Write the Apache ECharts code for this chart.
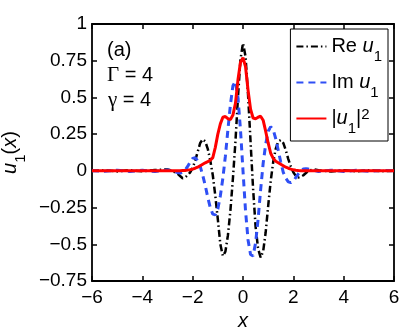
<!DOCTYPE html>
<html>
<head>
<meta charset="utf-8">
<script src="https://cdn.jsdelivr.net/npm/echarts@6.0.0/dist/echarts.min.js"></script>
<style>
  html, body { margin: 0; padding: 0; background: #fff; }
  #chart { width: 407px; height: 330px; }
</style>
</head>
<body>
<div id="chart"></div>
<script>
// x positions of the samples
const xs = [-6, -5.5, -5, -4.5, -4, -3.5, -3, -2.8, -2.6,
  -2.5, -2.4, -2.3, -2.2, -2.1, -2.0, -1.9, -1.8, -1.7, -1.6, -1.5, -1.4, -1.3, -1.2, -1.1,
  -1.0, -0.9, -0.8, -0.7, -0.6, -0.5, -0.4, -0.3, -0.2, -0.1, 0,
  0.1, 0.2, 0.3, 0.4, 0.5, 0.6, 0.7, 0.8, 0.9, 1.0, 1.1, 1.2, 1.3, 1.4, 1.5,
  1.6, 1.7, 1.8, 1.9, 2.0, 2.1, 2.2, 2.3, 2.4, 2.5,
  2.6, 2.8, 3, 3.5, 4, 4.5, 5, 5.5, 6]

// Re u1
const reU = [0, 0.004, -0.004, 0.005, -0.003, 0.006, 0.01, 0.0, -0.02,
  -0.035, -0.05, -0.045, -0.03, -0.01, 0.02, 0.07, 0.13, 0.19, 0.215, 0.2, 0.15, 0.07, -0.03, -0.17,
  -0.33, -0.5, -0.58, -0.55, -0.44, -0.27, -0.05, 0.2, 0.5, 0.76, 0.87,
  0.78, 0.52, 0.2, -0.12, -0.38, -0.53, -0.59, -0.55, -0.42, -0.24, -0.07, 0.06, 0.15, 0.2, 0.21,
  0.19, 0.14, 0.08, 0.03, -0.01, -0.035, -0.045, -0.04, -0.03, -0.015,
  0.0, 0.01, 0.005, -0.004, 0.005, -0.003, 0.004, -0.002, 0]

// Im u1
const imU = [0, -0.003, 0.004, -0.004, 0.005, -0.005, 0.006, 0.0, -0.012,
  -0.015, -0.01, 0.005, 0.03, 0.06, 0.085, 0.09, 0.07, 0.03, -0.03, -0.1, -0.18, -0.25, -0.295, -0.3,
  -0.26, -0.17, -0.05, 0.1, 0.28, 0.45, 0.58, 0.61, 0.5, 0.28, 0.0,
  -0.27, -0.47, -0.57, -0.58, -0.49, -0.33, -0.13, 0.05, 0.18, 0.27, 0.3, 0.28, 0.22, 0.14, 0.06,
  -0.01, -0.05, -0.075, -0.08, -0.07, -0.045, -0.02, 0.0, 0.012, 0.015,
  0.012, 0.004, -0.004, 0.005, -0.004, 0.004, -0.003, 0.003, 0]

// |u1|^2
const absU2 = [0, 0, 0, 0, 0, 0, 0, 0, 0.001,
  0.001, 0.002, 0.003, 0.005, 0.008, 0.012, 0.018, 0.025, 0.035, 0.045, 0.055, 0.063, 0.072, 0.09, 0.16,
  0.25, 0.32, 0.365, 0.37, 0.355, 0.35, 0.38, 0.46, 0.62, 0.74, 0.77,
  0.71, 0.55, 0.42, 0.36, 0.355, 0.365, 0.372, 0.345, 0.27, 0.19, 0.12, 0.085, 0.065, 0.055, 0.045,
  0.035, 0.025, 0.018, 0.012, 0.007, 0.004, 0.002, 0.001, 0, 0,
  0, 0, 0, 0, 0, 0, 0, 0, 0]

const yTicks = [-0.75, -0.5, -0.25, 0, 0.25, 0.5, 0.75, 1]
const yTickLabels = ['\u22120.75', '\u22120.5', '\u22120.25', '0', '0.25', '0.5', '0.75', '1']
const xTicks = [-6, -4, -2, 0, 2, 4, 6]
const xTickLabels = ['\u22126', '\u22124', '\u22122', '0', '2', '4', '6']

const font = "'Liberation Sans', Arial, sans-serif"
const serif = "'Liberation Serif', 'DejaVu Serif', serif"

// rich styles for italic u, subscripts, superscript
const rich = {
  n: { fontSize: 20, lineHeight: 22, fontFamily: font, color: '#000' },
  i: { fontSize: 20, lineHeight: 22, fontFamily: font, fontStyle: 'italic', color: '#000' },
  s: { fontSize: 15, lineHeight: 16, fontFamily: font, color: '#000', padding: [20, 0, 0, 0] },
  p: { fontSize: 15, lineHeight: 16, fontFamily: font, color: '#000', padding: [0, 0, 8, 0] }
}
const greek = {
  n: { fontSize: 20, fontFamily: font, fill: '#000' },
  g: { fontSize: 21, fontFamily: serif, fill: '#000' }
}

const names = ['Re u1', 'Im u1', '|u1|^2']
const legendText = {
  'Re u1': '{n|Re }{i|u}{s|1}',
  'Im u1': '{n|Im }{i|u}{s|1}',
  '|u1|^2': '{n||}{i|u}{s|1}{n||}{p|2}'
}

const chart = echarts.init(document.getElementById('chart'))

const pairs = arr => xs.map((x, k) => [x, arr[k]])

const axisLine = { onZero: false, lineStyle: { color: '#000', width: 1.8 } }
const axisTick = { inside: true, length: 5, lineStyle: { color: '#000', width: 1.5 } }

chart.setOption({
  animation: false,
  backgroundColor: '#fff',
  grid: { left: 92, right: 13, top: 24, bottom: 49, outerBoundsMode: 'none' },
  legend: {
    orient: 'vertical',
    right: 19,
    top: 29,
    data: names,
    backgroundColor: '#fff',
    borderColor: '#000',
    borderWidth: 1,
    borderRadius: 0,
    padding: [0, 6, 5, 5],
    itemWidth: 30,
    itemHeight: 12,
    itemGap: 1,
    itemStyle: { opacity: 0 },
    formatter: name => legendText[name],
    textStyle: { fontSize: 20, fontFamily: font, color: '#000', rich: rich }
  },
  xAxis: [{
    type: 'value', min: -6, max: 6, interval: 2,
    axisLine, axisTick,
    splitLine: { show: false },
    axisLabel: {
      fontSize: 19, fontFamily: font, color: '#000', margin: 7,
      formatter: v => xTickLabels[xTicks.indexOf(v)]
    },
    name: 'x', nameLocation: 'middle', nameGap: 25,
    nameTextStyle: { fontSize: 20, fontFamily: font, fontStyle: 'italic', color: '#000' }
  }, {
    type: 'value', position: 'top', min: -6, max: 6, interval: 2,
    axisLine, axisTick,
    splitLine: { show: false }, axisLabel: { show: false }
  }],
  yAxis: [{
    type: 'value', min: -0.75, max: 1, interval: 0.25,
    axisLine, axisTick,
    splitLine: { show: false },
    axisLabel: {
      fontSize: 19, fontFamily: font, color: '#000', margin: 5,
      formatter: v => yTickLabels[yTicks.indexOf(v)]
    },
    name: '{i|u}{s|1}{n|(}{i|x}{n|)}', nameLocation: 'middle', nameGap: 62, nameRotate: 90,
    nameTextStyle: { fontSize: 20, fontFamily: font, color: '#000', rich: rich }
  }, {
    type: 'value', position: 'right', min: -0.75, max: 1, interval: 0.25,
    axisLine, axisTick,
    splitLine: { show: false }, axisLabel: { show: false }
  }],
  graphic: [
    { type: 'text', left: 107, top: 40, style: { text: '(a)', fontSize: 20, fontFamily: font, fill: '#000' } },
    { type: 'text', left: 107, top: 65, style: { text: '{g|\u0393}{n| = 4}', rich: greek } },
    { type: 'text', left: 108, top: 90, style: { text: '{g|\u03b3}{n| = 4}', rich: greek } }
  ],
  series: [{
    name: 'Re u1',
    type: 'line',
    data: pairs(reU),
    symbol: 'none',
    lineStyle: { color: '#000', width: 2.5, type: [7, 3, 1.5, 3] },
    itemStyle: { color: '#000' }
  }, {
    name: 'Im u1',
    type: 'line',
    data: pairs(imU),
    symbol: 'none',
    lineStyle: { color: '#2f4ff5', width: 3, type: [7, 5] },
    itemStyle: { color: '#2f4ff5' }
  }, {
    name: '|u1|^2',
    type: 'line',
    data: pairs(absU2),
    symbol: 'none',
    lineStyle: { color: '#ff0000', width: 3, type: 'solid' },
    itemStyle: { color: '#ff0000' }
  }]
})
</script>
</body>
</html>
